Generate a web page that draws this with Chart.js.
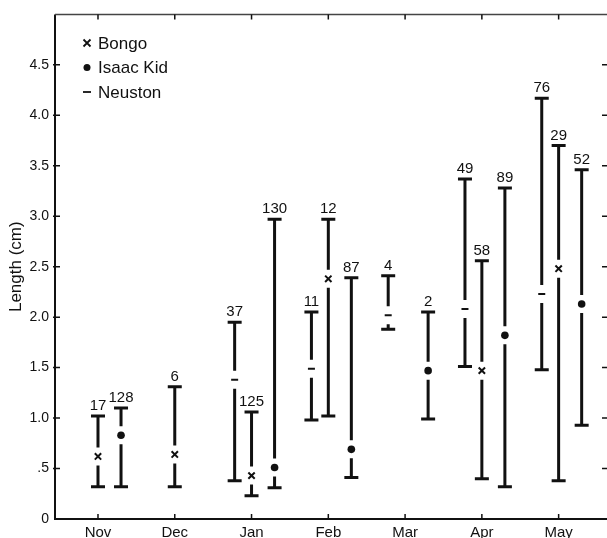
<!DOCTYPE html>
<html>
<head>
<meta charset="utf-8">
<script src="https://cdn.jsdelivr.net/npm/chart.js"></script>
<style>
html, body { margin: 0; padding: 0; background: #fff; overflow: hidden; }
#wrap { width: 607px; height: 538px; }
</style>
</head>
<body>
<div id="wrap"><canvas id="lengthChart" width="607" height="538"></canvas></div>
<script>
const months = ['Nov', 'Dec', 'Jan', 'Feb', 'Mar', 'Apr', 'May'];
const yTicks = [0, 0.5, 1, 1.5, 2, 2.5, 3, 3.5, 4, 4.5];

// Bongo: mean, range and number measured
const bongoMean = [0.62, 0.64, 0.43, 2.38, null, 1.47, 2.48];
const bongoMin  = [0.32, 0.32, 0.23, 1.02, null, 0.40, 0.38];
const bongoMax  = [1.02, 1.31, 1.06, 2.97, null, 2.56, 3.70];
const bongoN    = [17, 6, 125, 12, null, 58, 29];

// Isaac Kid
const isaacMean = [0.83, null, 0.51, 0.69, 1.47, 1.82, 2.13];
const isaacMin  = [0.32, null, 0.31, 0.41, 0.99, 0.32, 0.93];
const isaacMax  = [1.10, null, 2.97, 2.39, 2.05, 3.28, 3.46];
const isaacN    = [128, null, 130, 87, 2, 89, 52];

// Neuston
const neustonMean = [null, null, 1.38, 1.49, 2.02, 2.08, 2.23];
const neustonMin  = [null, null, 0.38, 0.98, 1.88, 1.51, 1.48];
const neustonMax  = [null, null, 1.95, 2.05, 2.41, 3.37, 4.17];
const neustonN    = [null, null, 37, 11, 4, 49, 76];

const FONT = "'Liberation Sans', Arial, sans-serif";
const INK = '#111';

function makePoints(mean, lo, hi, n, shift) {
    const pts = [];
    mean.forEach((m, i) => {
        if (m === null) return;
        pts.push({ x: i + shift, y: m, lo: lo[i], hi: hi[i], n: n[i] });
    });
    return pts;
}

// vertical range bars with caps, broken around the mean marker, and the count on top
const rangeBars = {
    id: 'rangeBars',
    beforeDatasetsDraw(chart) {
        const ctx = chart.ctx;
        const y = chart.scales.y;
        ctx.save();
        ctx.strokeStyle = INK;
        ctx.fillStyle = INK;
        ctx.lineWidth = 3;
        ctx.lineCap = 'butt';
        ctx.font = '15px ' + FONT;
        ctx.textAlign = 'center';
        ctx.textBaseline = 'alphabetic';
        chart.data.datasets.forEach((ds, di) => {
            const meta = chart.getDatasetMeta(di);
            meta.data.forEach((el, i) => {
                const raw = ds.data[i];
                const px = el.x;
                const yHi = y.getPixelForValue(raw.hi);
                const yLo = y.getPixelForValue(raw.lo);
                const yM = el.y;
                const gap = 9;
                ctx.beginPath();
                if (yM - gap > yHi) { ctx.moveTo(px, yHi); ctx.lineTo(px, yM - gap); }
                if (yM + gap < yLo) { ctx.moveTo(px, yM + gap); ctx.lineTo(px, yLo); }
                ctx.moveTo(px - 7, yHi); ctx.lineTo(px + 7, yHi);
                ctx.moveTo(px - 7, yLo); ctx.lineTo(px + 7, yLo);
                ctx.stroke();
                ctx.fillText(String(raw.n), px, yHi - 6);
            });
        });
        ctx.restore();
    },
    afterDraw(chart) {
        const ctx = chart.ctx;
        const { left, right, top, bottom } = chart.chartArea;
        const xs = chart.scales.x, ys = chart.scales.y;
        const rim = right + 3; // the right frame line falls just outside the picture
        ctx.save();
        ctx.strokeStyle = INK;
        ctx.lineWidth = 2;
        ctx.beginPath();
        ctx.moveTo(left, top); ctx.lineTo(left, bottom); ctx.lineTo(rim, bottom);
        ctx.stroke();
        ctx.strokeStyle = '#444';
        ctx.lineWidth = 1.5;
        ctx.beginPath();
        ctx.moveTo(left, top); ctx.lineTo(rim, top);
        ctx.stroke();
        ctx.strokeStyle = INK;
        ctx.lineWidth = 1.5;
        ctx.beginPath();
        months.forEach((m, i) => {
            const px = xs.getPixelForValue(i);
            ctx.moveTo(px, bottom); ctx.lineTo(px, bottom - 5);
            ctx.moveTo(px, top); ctx.lineTo(px, top + 5);
        });
        yTicks.forEach(v => {
            if (v === 0) return;
            const py = ys.getPixelForValue(v);
            ctx.moveTo(left - 2, py); ctx.lineTo(left + 5, py);
            ctx.moveTo(rim, py); ctx.lineTo(rim - 8, py);
        });
        ctx.stroke();

        // legend
        ctx.font = '17px ' + FONT;
        ctx.fillStyle = INK;
        ctx.textAlign = 'left';
        ctx.textBaseline = 'middle';
        const lx = 87, tx = 98;
        chart.data.datasets.forEach((ds, di) => {
            const ly = 43 + di * 24.5;
            ctx.beginPath();
            ctx.lineWidth = 1.8;
            if (ds.pointStyle === 'crossRot') {
                ctx.moveTo(lx - 3.5, ly - 3.5); ctx.lineTo(lx + 3.5, ly + 3.5);
                ctx.moveTo(lx + 3.5, ly - 3.5); ctx.lineTo(lx - 3.5, ly + 3.5);
                ctx.stroke();
            } else if (ds.pointStyle === 'circle') {
                ctx.arc(lx, ly, 3.5, 0, Math.PI * 2);
                ctx.fill();
            } else {
                ctx.moveTo(lx - 4, ly); ctx.lineTo(lx + 4, ly);
                ctx.stroke();
            }
            ctx.fillText(ds.label, tx, ly + 1);
        });
        ctx.restore();
    }
};

new Chart(document.getElementById('lengthChart').getContext('2d'), {
    type: 'scatter',
    data: {
        datasets: [
            {
                label: 'Bongo',
                data: makePoints(bongoMean, bongoMin, bongoMax, bongoN, 0),
                pointStyle: 'crossRot',
                pointRadius: 4.5,
                borderWidth: 2,
                borderColor: INK,
                backgroundColor: INK
            },
            {
                label: 'Isaac Kid',
                data: makePoints(isaacMean, isaacMin, isaacMax, isaacN, 0.30),
                pointStyle: 'circle',
                pointRadius: 3.8,
                borderWidth: 0,
                borderColor: INK,
                backgroundColor: INK
            },
            {
                label: 'Neuston',
                data: makePoints(neustonMean, neustonMin, neustonMax, neustonN, -0.22),
                pointStyle: 'line',
                pointRadius: 3.5,
                borderWidth: 2,
                borderColor: INK,
                backgroundColor: INK
            }
        ]
    },
    options: {
        responsive: false,
        animation: false,
        events: [],
        layout: { autoPadding: false, padding: { top: 12, right: 0, left: 0, bottom: 0 } },
        plugins: {
            legend: { display: false },
            tooltip: { enabled: false }
        },
        scales: {
            x: {
                type: 'linear',
                min: -0.56,
                max: 6.63,
                grid: { display: false, drawTicks: false },
                border: { display: false },
                afterBuildTicks: s => { s.ticks = months.map((m, i) => ({ value: i })); },
                afterFit: s => { s.height = 19; },
                ticks: {
                    callback: v => months[v],
                    font: { size: 15, family: FONT },
                    color: INK,
                    padding: 5,
                    autoSkip: false,
                    maxRotation: 0
                }
            },
            y: {
                min: 0,
                max: 5,
                grid: { display: false, drawTicks: false },
                border: { display: false },
                afterBuildTicks: s => { s.ticks = yTicks.map(v => ({ value: v })); },
                afterFit: s => { s.width = 55; },
                ticks: {
                    callback: v => v === 0 ? '0' : (v === 0.5 ? '.5' : v.toFixed(1)),
                    font: { size: 14, family: FONT },
                    color: INK,
                    padding: 6
                },
                title: {
                    display: true,
                    text: 'Length (cm)',
                    font: { size: 17, family: FONT },
                    color: INK,
                    padding: { top: 6, bottom: 0 }
                }
            }
        }
    },
    plugins: [rangeBars]
});
</script>
</body>
</html>
